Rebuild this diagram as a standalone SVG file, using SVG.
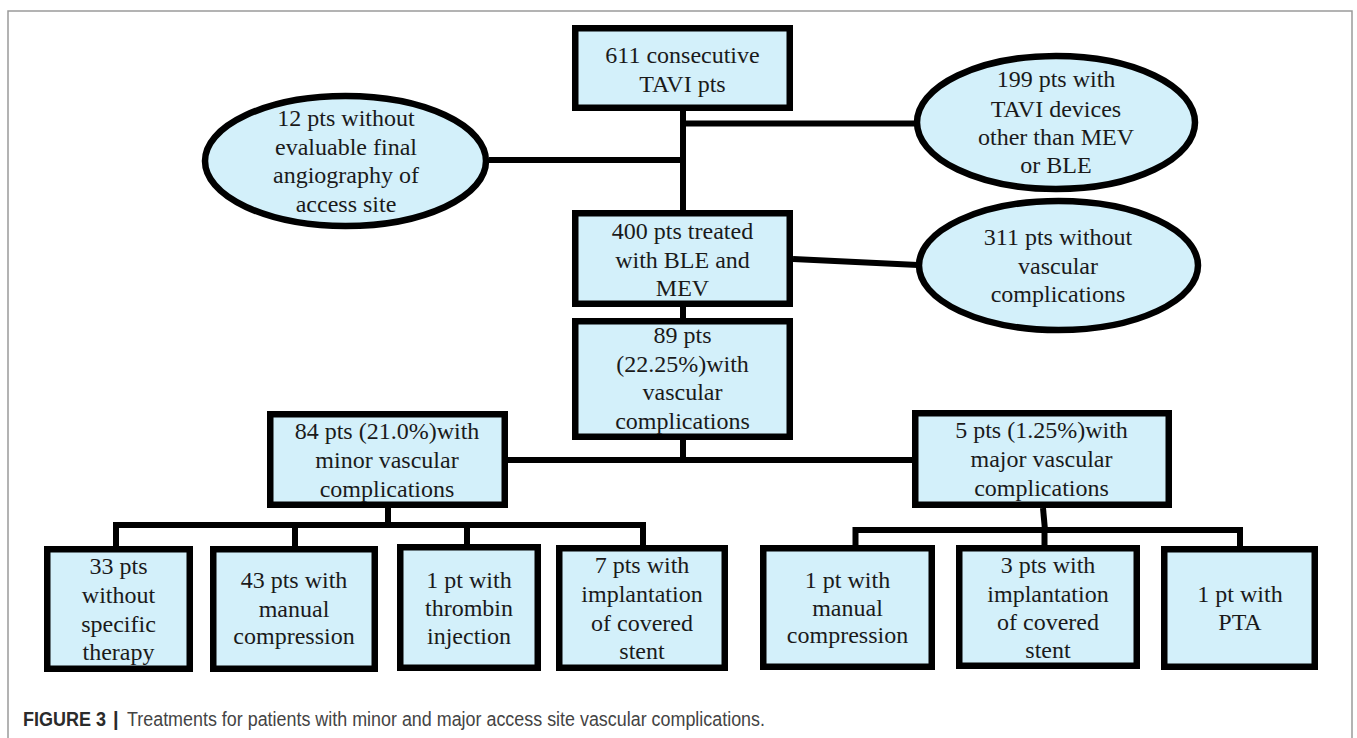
<svg xmlns="http://www.w3.org/2000/svg" width="1357" height="738" viewBox="0 0 1357 738">
<style>
.box{fill:#d3f0fa;stroke:#000;stroke-width:6.5}
.ell{fill:#d3f0fa;stroke:#000;stroke-width:6.5}
.t{font-size:24px;fill:#1a1a1a;text-anchor:middle}
.c{fill:none;stroke:#000;stroke-width:6;stroke-linejoin:miter}
.cap{font-size:20px}
</style>
<rect width="1357" height="738" fill="#fff"/>
<path d="M8 738 V11 H1352 V738" fill="none" stroke="#9a9a9a" stroke-width="1.5"/>
<g id="connectors">
<path class="c" d="M683 111 V210"/>
<path class="c" d="M683 307 V318"/>
<path class="c" d="M683 440 V460"/>
<path class="c" d="M489 160 H683"/>
<path class="c" d="M683 123.5 H917"/>
<path class="c" d="M793 259 L918 265"/>
<path class="c" d="M508 460 H913"/>
<path class="c" d="M388 508 V525"/>
<path class="c" d="M116 546 V525 H643 V545"/>
<path class="c" d="M295 525 V546"/>
<path class="c" d="M467 525 V544"/>
<path class="c" d="M1043 508 L1045 530"/>
<path class="c" d="M855.5 545 V530 H1240 V546"/>
<path class="c" d="M1044.5 530 V545"/>
</g>
<g font-family="'Liberation Serif', 'Times New Roman', Times, serif">
<g id="n611">
<rect class="box" x="575.25" y="28.25" width="214.5" height="79.5"/>
<text class="t" x="682.5" y="63">611 consecutive</text>
<text class="t" x="682.5" y="92">TAVI pts</text>
</g>
<g id="n12">
<ellipse class="ell" cx="345.5" cy="161" rx="140.5" ry="65"/>
<text class="t" x="346" y="126">12 pts without</text>
<text class="t" x="346" y="155">evaluable final</text>
<text class="t" x="346" y="183">angiography of</text>
<text class="t" x="346" y="212">access site</text>
</g>
<g id="n199">
<ellipse class="ell" cx="1056" cy="122.5" rx="139" ry="66.5"/>
<text class="t" x="1056" y="87">199 pts with</text>
<text class="t" x="1056" y="117">TAVI devices</text>
<text class="t" x="1056" y="145">other than MEV</text>
<text class="t" x="1056" y="173">or BLE</text>
</g>
<g id="n400">
<rect class="box" x="575.25" y="213.25" width="214.5" height="90.5"/>
<text class="t" x="682.5" y="239">400 pts treated</text>
<text class="t" x="682.5" y="268">with BLE and</text>
<text class="t" x="682.5" y="296">MEV</text>
</g>
<g id="n311">
<ellipse class="ell" cx="1058.5" cy="265.5" rx="139.5" ry="64.5"/>
<text class="t" x="1058" y="245">311 pts without</text>
<text class="t" x="1058" y="274">vascular</text>
<text class="t" x="1058" y="302">complications</text>
</g>
<g id="n89">
<rect class="box" x="575.25" y="321.25" width="214.5" height="115.5"/>
<text class="t" x="682.5" y="343">89 pts</text>
<text class="t" x="682.5" y="372">(22.25%)with</text>
<text class="t" x="682.5" y="400">vascular</text>
<text class="t" x="682.5" y="429">complications</text>
</g>
<g id="n84">
<rect class="box" x="270.25" y="414.25" width="234.5" height="90.5"/>
<text class="t" x="387" y="439">84 pts (21.0%)with</text>
<text class="t" x="387" y="468">minor vascular</text>
<text class="t" x="387" y="497">complications</text>
</g>
<g id="n5">
<rect class="box" x="915.25" y="413.25" width="253.5" height="91.5"/>
<text class="t" x="1041.5" y="438">5 pts (1.25%)with</text>
<text class="t" x="1041.5" y="467">major vascular</text>
<text class="t" x="1041.5" y="496">complications</text>
</g>
<g id="n33">
<rect class="box" x="47.25" y="549.25" width="142.5" height="119.5"/>
<text class="t" x="118.5" y="574">33 pts</text>
<text class="t" x="118.5" y="603">without</text>
<text class="t" x="118.5" y="632">specific</text>
<text class="t" x="118.5" y="660">therapy</text>
</g>
<g id="n43">
<rect class="box" x="213.25" y="549.25" width="161.5" height="119.5"/>
<text class="t" x="294" y="588">43 pts with</text>
<text class="t" x="294" y="617">manual</text>
<text class="t" x="294" y="644">compression</text>
</g>
<g id="n1thr">
<rect class="box" x="400.25" y="547.25" width="137.5" height="120.5"/>
<text class="t" x="469" y="588">1 pt with</text>
<text class="t" x="469" y="616">thrombin</text>
<text class="t" x="469" y="644">injection</text>
</g>
<g id="n7">
<rect class="box" x="559.25" y="548.25" width="165.5" height="119.5"/>
<text class="t" x="642" y="573">7 pts with</text>
<text class="t" x="642" y="602">implantation</text>
<text class="t" x="642" y="631">of covered</text>
<text class="t" x="642" y="659">stent</text>
</g>
<g id="n1man">
<rect class="box" x="763.25" y="548.25" width="168.5" height="118.5"/>
<text class="t" x="847.5" y="588">1 pt with</text>
<text class="t" x="847.5" y="616">manual</text>
<text class="t" x="847.5" y="643">compression</text>
</g>
<g id="n3">
<rect class="box" x="959.25" y="548.25" width="177.5" height="117.5"/>
<text class="t" x="1048" y="573">3 pts with</text>
<text class="t" x="1048" y="602">implantation</text>
<text class="t" x="1048" y="630">of covered</text>
<text class="t" x="1048" y="658">stent</text>
</g>
<g id="nPTA">
<rect class="box" x="1164.25" y="549.25" width="150.5" height="117.5"/>
<text class="t" x="1240" y="602">1 pt with</text>
<text class="t" x="1240" y="630">PTA</text>
</g>
</g>
<g id="caption" font-family="'Liberation Sans', Arial, Helvetica, sans-serif">
<text class="cap" x="23" y="726" font-weight="bold" fill="#2b2b2b" textLength="83" lengthAdjust="spacingAndGlyphs">FIGURE 3</text>
<text class="cap" x="113" y="726" font-weight="bold" fill="#2b2b2b">|</text>
<text class="cap" x="127" y="726" fill="#444" textLength="638" lengthAdjust="spacingAndGlyphs">Treatments for patients with minor and major access site vascular complications.</text>
</g>
</svg>
